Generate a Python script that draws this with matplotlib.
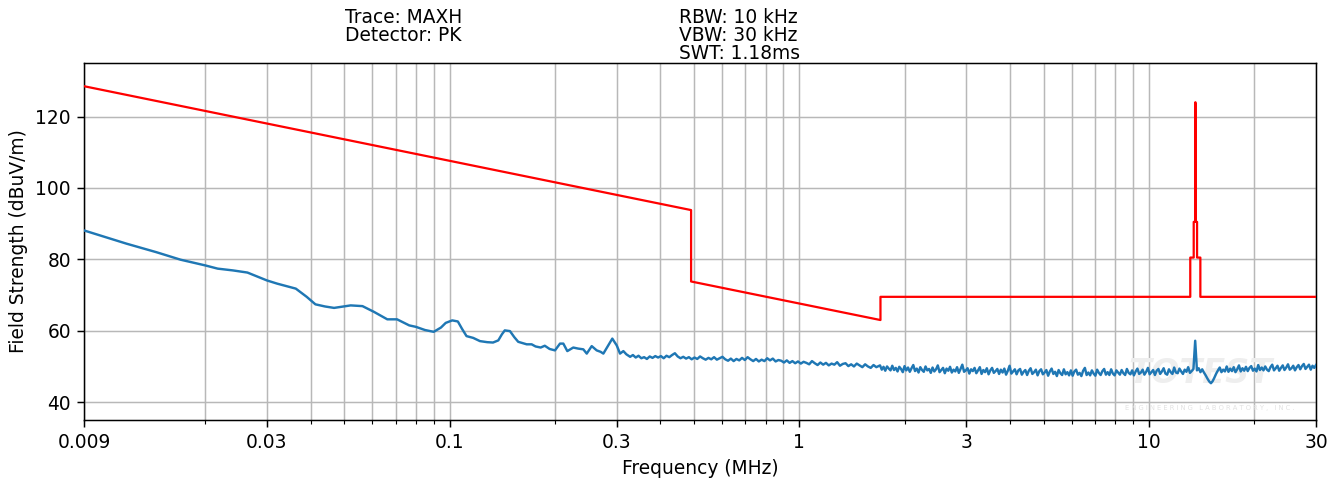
import numpy as np
import matplotlib
matplotlib.use("Agg")
import matplotlib.pyplot as plt
from matplotlib.ticker import LogLocator, NullFormatter

# ---------------- data ----------------
# low-frequency part of the measured trace (MHz, dBuV/m)
freq_a = [0.009, 0.0119, 0.0145, 0.0170, 0.0200, 0.0217, 0.0240, 0.0264,
          0.0300, 0.0321, 0.0363, 0.0390, 0.0413, 0.0440, 0.0467, 0.0521,
          0.0563, 0.0607, 0.0663, 0.0707, 0.0766, 0.0800, 0.0850, 0.0900,
          0.0944, 0.0974, 0.1017, 0.1055, 0.1085, 0.1117, 0.1167, 0.1220,
          0.1280, 0.1330, 0.1377, 0.1410, 0.1437, 0.1487, 0.1530, 0.1570,
          0.1660, 0.1715, 0.1760, 0.1820, 0.1870, 0.1930, 0.2000, 0.2067,
          0.2113, 0.2169, 0.2256, 0.2330, 0.2410, 0.2465, 0.2547, 0.2632,
          0.2700, 0.2750, 0.2841, 0.2917, 0.3003, 0.3069, 0.3137, 0.3200]
level_a = [88.1, 84.4, 82.0, 79.9, 78.3, 77.4, 76.9, 76.3,
           74.1, 73.2, 71.8, 69.5, 67.4, 66.8, 66.4, 67.1,
           66.9, 65.3, 63.2, 63.2, 61.5, 61.1, 60.2, 59.7,
           60.9, 62.2, 62.9, 62.6, 60.5, 58.5, 58.0, 57.1,
           56.8, 56.7, 57.3, 59.0, 60.1, 59.9, 58.2, 56.9,
           56.2, 56.2, 55.6, 55.3, 55.8, 54.9, 54.5, 56.4,
           56.4, 54.3, 55.3, 55.0, 54.8, 53.6, 55.7, 54.5,
           54.1, 53.6, 55.9, 57.8, 55.9, 53.6, 54.3, 53.4]

# mid part of the sweep, 0.328 .. 1.69 MHz (log-spaced sweep points)
freq_b = np.geomspace(0.328, 1.69, 90)
level_b = [52.7, 53.2, 52.5, 53.0, 52.3, 52.6, 52.1, 52.8, 52.4, 52.9,
           52.5, 52.9, 52.3, 53.0, 52.6, 53.2, 53.7, 52.8, 52.3, 52.7,
           52.2, 52.6, 52.0, 52.5, 52.1, 52.8, 52.3, 51.9, 52.4, 52.0,
           52.6, 51.9, 52.3, 52.7, 52.0, 51.6, 52.2, 51.5, 52.1, 51.7,
           52.4, 51.8, 52.6, 52.0, 51.5, 52.1, 51.4, 51.9, 51.5, 52.3,
           51.7, 52.2, 51.4, 51.8, 51.6, 51.1, 51.7, 51.0, 51.5, 50.9,
           51.4, 50.8, 51.3, 51.0, 50.6, 51.5, 50.9, 50.4, 51.1, 50.5,
           51.0, 50.3, 50.8, 50.5, 51.2, 50.2, 50.7, 50.9, 50.1, 50.6,
           50.0, 50.8, 50.3, 49.8, 50.6, 50.0, 49.6, 50.4, 49.8, 50.2]

# high part of the sweep, 1.70 .. 30 MHz (log-spaced sweep points)
freq_c = np.geomspace(1.70, 30.0, 250)
level_c = [50.3, 49.1, 49.9, 48.8, 50.0, 49.4, 48.9, 50.2, 49.0, 49.6,
           48.6, 49.9, 49.3, 48.4, 50.1, 48.9, 49.7, 48.5, 49.5, 50.4,
           48.7, 49.4, 48.3, 49.8, 49.0, 48.5, 50.0, 48.9, 49.3, 48.2,
           49.7, 48.6, 49.2, 50.3, 48.4, 49.0, 49.6, 48.1, 49.4, 48.8,
           49.9, 48.3, 49.1, 48.6, 49.8, 48.2, 49.3, 50.5, 48.5, 48.9,
           49.5, 48.0, 49.2, 48.7, 49.6, 48.1, 48.9, 49.8, 47.9, 49.0,
           48.4, 49.5, 47.8, 48.9, 49.6, 48.2, 48.7, 49.3, 47.9, 49.1,
           48.3, 49.4, 47.7, 48.8, 50.2, 48.0, 48.6, 49.2, 47.8, 48.9,
           49.3, 47.7, 48.5, 49.0, 47.6, 48.8, 49.5, 47.9, 48.4, 49.1,
           47.5, 48.7, 49.2, 47.8, 48.3, 49.0, 47.4, 48.6, 49.4, 47.9,
           48.5, 47.3, 49.0, 48.1, 47.6, 49.2, 47.8, 48.4, 47.5, 48.9,
           47.4, 48.6, 49.1, 47.7, 48.2, 47.3, 48.8, 49.6, 47.6, 48.3,
           47.5, 48.9, 48.0, 47.4, 49.1, 48.2, 47.6, 48.7, 49.3, 47.7,
           48.4, 47.6, 49.2, 48.0, 47.5, 48.9, 48.3, 47.7, 49.0, 48.1,
           47.6, 49.3, 48.2, 47.8, 48.9, 47.5, 48.6, 49.4, 47.9, 48.3,
           49.1, 47.7, 48.5, 49.6, 47.8, 48.4, 49.0, 47.6, 48.8, 49.3,
           47.9, 48.6, 49.5, 48.0, 47.7, 49.2, 48.4, 47.9, 49.7, 48.3,
           48.1, 49.4, 48.6, 47.9, 49.1, 48.5, 49.8, 48.2, 48.7, 49.3,
           57.2, 48.9, 49.5, 48.4, 49.2, 48.3, 47.5, 46.6, 45.8, 45.3,
           45.9, 46.9, 48.0, 48.9, 49.7, 48.4, 49.1, 48.6, 50.0, 48.5,
           49.4, 48.7, 49.8, 48.4, 49.2, 50.3, 48.6, 49.5, 48.8, 49.9,
           48.7, 49.6, 50.1, 48.8, 49.4, 48.6, 50.4, 49.0, 49.7, 48.9,
           50.0, 49.1, 48.7, 49.8, 50.5, 48.9, 49.5, 50.2, 48.8, 49.6,
           50.3, 49.0, 49.7, 50.6, 49.1, 49.5, 50.2, 48.9, 49.8, 50.4,
           49.2, 50.1, 50.7, 49.3, 49.9, 50.5, 49.1, 50.2, 49.6, 50.4]

# limit line breakpoints (MHz, dBuV/m)
limit_freq = [0.009, 0.49, 0.49, 1.705, 1.705, 13.11, 13.11, 13.41, 13.41,
              13.553, 13.553, 13.567, 13.567, 13.71, 13.71, 14.01, 14.01, 30.0]
limit_level = [128.5, 93.8, 73.8, 63.0, 69.5, 69.5, 80.5, 80.5, 90.5,
               90.5, 124.0, 124.0, 90.5, 90.5, 80.5, 80.5, 69.5, 69.5]

xtick_values = [0.009, 0.03, 0.1, 0.3, 1, 3, 10, 30]
xtick_labels = ["0.009", "0.03", "0.1", "0.3", "1", "3", "10", "30"]
ytick_values = [40, 60, 80, 100, 120]

info_left = "Trace: MAXH\nDetector: PK"
info_right = "RBW: 10 kHz\nVBW: 30 kHz\nSWT: 1.18ms"

# ---------------- plot ----------------
W, H, DPI = 1340, 478, 134
fig = plt.figure(figsize=(W / DPI, H / DPI), dpi=DPI)
ax = fig.add_axes([84 / W, 58 / H, 1232 / W, 357 / H])

freq = np.concatenate([np.array(freq_a), freq_b, freq_c])
level = np.concatenate([np.array(level_a), np.array(level_b), np.array(level_c)])

ax.plot(freq, level, color="#1f77b4", lw=1.3, zorder=3)
ax.plot(limit_freq, limit_level, color="#ff0000", lw=1.2, zorder=4)

ax.set_xscale("log")
ax.set_xlim(0.009, 30)
ax.set_ylim(35, 135)
ax.set_xticks(xtick_values)
ax.set_xticklabels(xtick_labels)
ax.xaxis.set_minor_locator(LogLocator(base=10, subs=np.arange(2, 10)))
ax.xaxis.set_minor_formatter(NullFormatter())
ax.set_yticks(ytick_values)
ax.grid(True, which="both", color="#b8b8b8", lw=0.8)
ax.set_axisbelow(True)

ax.set_xlabel("Frequency (MHz)", fontsize=10)
ax.set_ylabel("Field Strength (dBuV/m)", fontsize=10)
ax.tick_params(labelsize=10)

# faint watermark
ax.text(0.906, 0.13, "TOTEST", transform=ax.transAxes, ha="center", va="center",
        fontsize=18, fontweight="bold", fontstyle="italic", color="#eeeeee", zorder=1)
ax.text(0.914, 0.035, "E N G I N E E R I N G   L A B O R A T O R Y ,   I N C .",
        transform=ax.transAxes, ha="center", va="center",
        fontsize=3.6, color="#e2e2e2", zorder=1)

fig.text(345 / W, 1 - 8 / H, info_left, ha="left", va="top", fontsize=10,
         linespacing=0.93)
fig.text(679 / W, 1 - 8 / H, info_right, ha="left", va="top", fontsize=10,
         linespacing=0.93)

fig.savefig("out.png", dpi=DPI)
